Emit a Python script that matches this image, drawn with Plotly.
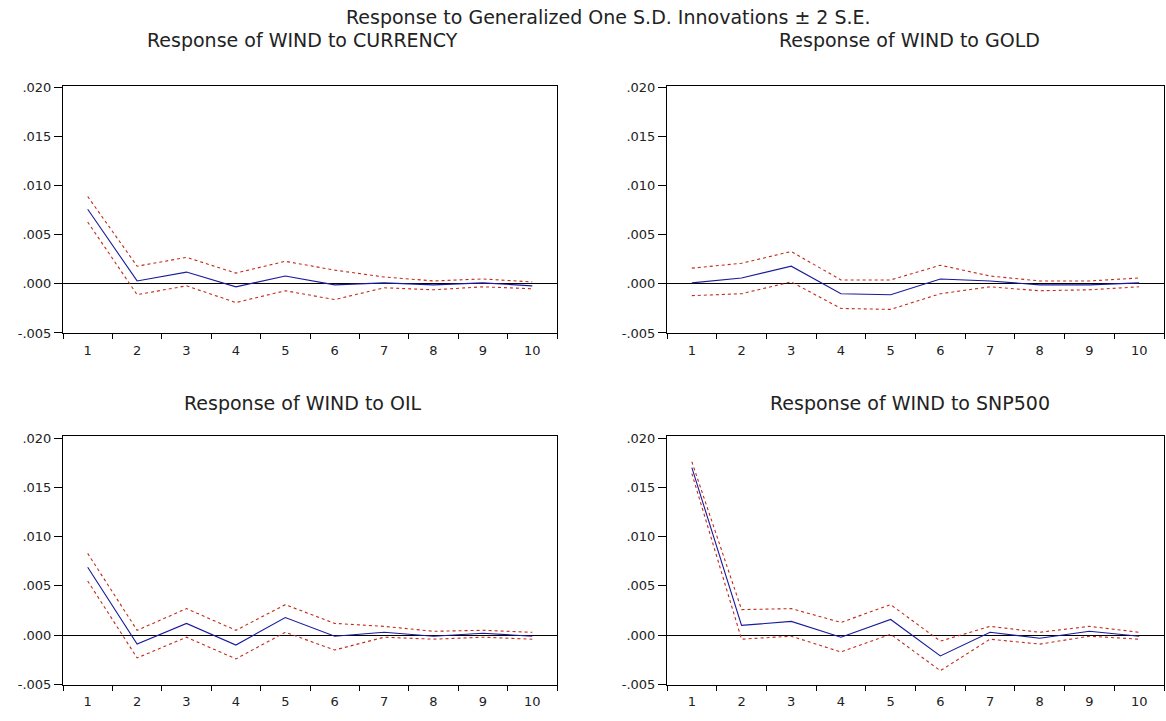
import plotly.graph_objects as go
from plotly.subplots import make_subplots

periods = [1, 2, 3, 4, 5, 6, 7, 8, 9, 10]

currency_resp = [0.0076, 0.0003, 0.0012, -0.0003, 0.0008, -0.0001, 0.0001, -0.0001, 0.0001, -0.0002]
currency_up = [0.0089, 0.0018, 0.0027, 0.0011, 0.0023, 0.0014, 0.0007, 0.0003, 0.0005, 0.0002]
currency_lo = [0.0063, -0.0011, -0.0002, -0.0019, -0.0007, -0.0016, -0.0004, -0.0006, -0.0003, -0.0005]

gold_resp = [0.0001, 0.0006, 0.0018, -0.0010, -0.0011, 0.0005, 0.0003, -0.0001, -0.0001, 0.0001]
gold_up = [0.0016, 0.0021, 0.0033, 0.0004, 0.0004, 0.0019, 0.0008, 0.0003, 0.0003, 0.0006]
gold_lo = [-0.0012, -0.0010, 0.0002, -0.0025, -0.0026, -0.0010, -0.0003, -0.0007, -0.0006, -0.0003]

oil_resp = [0.0069, -0.0009, 0.0012, -0.0010, 0.0018, -0.0001, 0.0003, -0.0001, 0.0002, -0.0001]
oil_up = [0.0083, 0.0005, 0.0027, 0.0005, 0.0031, 0.0012, 0.0009, 0.0004, 0.0005, 0.0003]
oil_lo = [0.0055, -0.0023, -0.0002, -0.0024, 0.0003, -0.0015, -0.0002, -0.0004, -0.0002, -0.0004]

snp_resp = [0.0170, 0.0010, 0.0014, -0.0002, 0.0016, -0.0021, 0.0003, -0.0003, 0.0004, -0.0001]
snp_up = [0.0176, 0.0026, 0.0027, 0.0013, 0.0031, -0.0006, 0.0009, 0.0003, 0.0009, 0.0003]
snp_lo = [0.0164, -0.0004, -0.0001, -0.0017, 0.0001, -0.0036, -0.0004, -0.0009, -0.0001, -0.0004]

y_tickvals = [-0.005, 0.0, 0.005, 0.010, 0.015, 0.020]
y_ticktext = ["-.005", ".000", ".005", ".010", ".015", ".020"]

main_title = "Response to Generalized One S.D. Innovations \u00b1 2 S.E."
panel_titles = ["Response of WIND to CURRENCY", "Response of WIND to GOLD",
                "Response of WIND to OIL", "Response of WIND to SNP500"]

panels = [
    (currency_resp, currency_up, currency_lo),
    (gold_resp, gold_up, gold_lo),
    (oil_resp, oil_up, oil_lo),
    (snp_resp, snp_up, snp_lo),
]

W, H = 1166, 721
FONT = "DejaVu Sans, Arial, sans-serif"

fig = make_subplots(rows=2, cols=2)

blue = "#1a1a9c"
red = "#c42a1a"

for i, (resp, up, lo) in enumerate(panels):
    r, c = i // 2 + 1, i % 2 + 1
    fig.add_trace(go.Scatter(x=periods, y=up, mode="lines",
                             line=dict(color=red, width=1.1, dash="3px,3px")), row=r, col=c)
    fig.add_trace(go.Scatter(x=periods, y=lo, mode="lines",
                             line=dict(color=red, width=1.1, dash="3px,3px")), row=r, col=c)
    fig.add_trace(go.Scatter(x=periods, y=resp, mode="lines",
                             line=dict(color=blue, width=1.1)), row=r, col=c)

# pixel geometry
x_dom = [(63, 557), (667, 1164)]
y_dom = [(82, 334), (439, 692)]

def px_to_x(a):
    return a / W

def px_to_y(a):
    return (H - a) / H

for i in range(4):
    r, c = i // 2, i % 2
    ax = "" if i == 0 else str(i + 1)
    xd = [px_to_x(x_dom[c][0]), px_to_x(x_dom[c][1])]
    yd = [px_to_y(y_dom[r][1]), px_to_y(y_dom[r][0])]
    fig.layout["xaxis" + ax].update(
        domain=xd, range=[0.5, 10.5], tickvals=periods, ticktext=[str(p) for p in periods],
        ticks="", showgrid=False, zeroline=False, showline=True, mirror=True,
        linecolor="black", linewidth=1, ticklabelstandoff=5,
        tickfont=dict(family=FONT, size=13, color="#222"),
        minor=dict(ticks="outside", tick0=0.5, dtick=1, ticklen=5, tickcolor="black", showgrid=False),
    )
    fig.layout["yaxis" + ax].update(
        domain=yd, range=[-0.005, 0.0202], tickvals=y_tickvals, ticktext=y_ticktext,
        ticks="outside", ticklen=8, tickcolor="black", showgrid=False,
        zeroline=True, zerolinecolor="black", zerolinewidth=1,
        showline=True, mirror=True, linecolor="black", linewidth=1,
        tickfont=dict(family=FONT, size=13, color="#222"),
    )

annotations = [dict(text=main_title, x=px_to_x(609), y=px_to_y(12), xref="paper", yref="paper",
                    showarrow=False, font=dict(family=FONT, size=19, color="#222"),
                    xanchor="center", yanchor="middle")]
title_pos = [(302, 36), (910, 36), (303, 405), (910, 405)]
for t, (tx, ty) in zip(panel_titles, title_pos):
    annotations.append(dict(text=t, x=px_to_x(tx), y=px_to_y(ty), xref="paper", yref="paper",
                            showarrow=False, font=dict(family=FONT, size=19, color="#222"),
                            xanchor="center", yanchor="middle"))

fig.update_layout(
    width=W, height=H, margin=dict(l=0, r=0, t=0, b=0),
    paper_bgcolor="white", plot_bgcolor="white", showlegend=False,
    annotations=annotations,
)

fig.write_html("out.html")
